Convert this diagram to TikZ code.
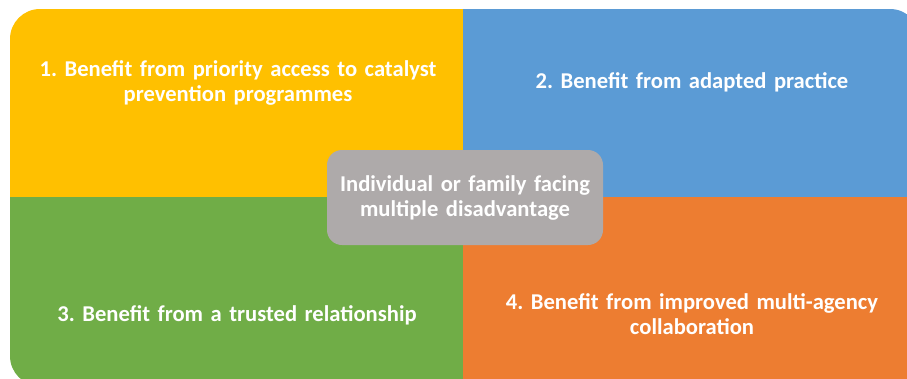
\documentclass[tikz,border=0pt]{standalone}
\usepackage{fontspec}
\setmainfont{Carlito}[WordSpace=0.6]
\frenchspacing
\definecolor{qyellow}{HTML}{FFC000}
\definecolor{qblue}{HTML}{5B9BD5}
\definecolor{qgreen}{HTML}{70AD47}
\definecolor{qorange}{HTML}{ED7D31}
\definecolor{qgray}{HTML}{AEAAAA}
\tikzset{
  qtext/.style={text=white, font=\bfseries\fontsize{22.6}{25.5}\selectfont, align=center, anchor=base, inner sep=0pt, text width=#1},
  qtext/.default=430pt,
  centerbox/.style={fill=qgray, rounded corners=15pt, draw=none}
}
\begin{document}
\begin{tikzpicture}[x=1pt,y=-1pt]
\useasboundingbox (0,0) rectangle (907,378);
\begin{scope}
\clip[rounded corners=30pt] (10,9) rectangle (920,386);
\fill[qyellow] (0,0) rectangle (463,197);
\fill[qblue] (463,0) rectangle (930,197);
\fill[qgreen] (0,197) rectangle (463,390);
\fill[qorange] (463,197) rectangle (930,390);
\end{scope}
\coordinate (q1) at (238,76);
\coordinate (q2) at (692,88);
\coordinate (q3) at (237,321);
\coordinate (q4) at (692,309);
\node[centerbox, minimum width=276pt, minimum height=95pt] (cbox) at (465,197.5) {};
\node[qtext] (t1) at (q1) {1. Benefit from priority access to catalyst\\prevention programmes};
\node[qtext] (t2) at (q2) {2. Benefit from adapted practice};
\node[qtext] (t3) at (q3) {3. Benefit from a trusted relationship};
\node[qtext] (t4) at (q4) {4. Benefit from improved multi-agency\\collaboration};
\node[qtext=265pt] (tc) at (465,191) {Individual or family facing\\multiple disadvantage};
\end{tikzpicture}
\end{document}
